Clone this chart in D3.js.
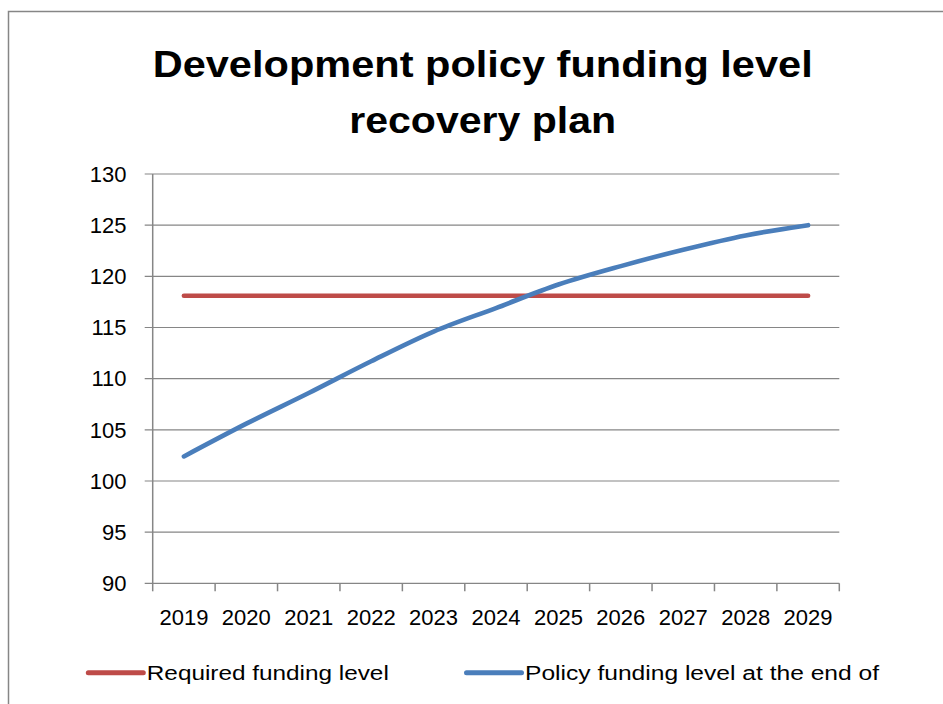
<!DOCTYPE html>
<html>
<head>
<meta charset="utf-8">
<script src="https://cdn.jsdelivr.net/npm/d3@7"></script>
<style>
  html, body { margin: 0; padding: 0; background: #fff; }
  svg { display: block; }
</style>
</head>
<body>
<div id="chart"></div>
<script>
// data
const years = ["2019", "2020", "2021", "2022", "2023", "2024", "2025", "2026", "2027", "2028", "2029"];
const required = [118.1, 118.1, 118.1, 118.1, 118.1, 118.1, 118.1, 118.1, 118.1, 118.1, 118.1];
const policy = [102.4, 105.6, 108.6, 111.7, 114.6, 116.9, 119.2, 121.0, 122.6, 124.0, 125.0];
const yTicks = [90, 95, 100, 105, 110, 115, 120, 125, 130];
const titleLines = ["Development policy funding level", "recovery plan"];
const seriesNames = ["Required funding level", "Policy funding level at the end of"];

const W = 943, H = 704;
const plot = { left: 152.7, right: 839.3, top: 174, bottom: 583.3 };
const grey = "#868686";
const font = "'Liberation Sans', Arial, sans-serif";

const svg = d3.select("#chart").append("svg").attr("width", W).attr("height", H);

// chart frame (only left and top edges visible in the crop)
svg.append("path")
  .attr("d", `M8.5,${H}V11.5H${W}`)
  .attr("fill", "none").attr("stroke", grey).attr("stroke-width", 1.5);

// title
const titleY = [76.5, 133.3];
const titleW = [660, 267];
svg.append("g").selectAll("text").data(titleLines).enter().append("text")
  .attr("x", 482.7).attr("y", (d, i) => titleY[i])
  .attr("text-anchor", "middle")
  .attr("font-family", font).attr("font-weight", "bold").attr("font-size", 37.5)
  .attr("textLength", (d, i) => titleW[i]).attr("lengthAdjust", "spacingAndGlyphs")
  .text((d) => d);

const x = d3.scaleBand().domain(years).range([plot.left, plot.right]).padding(0);
const y = d3.scaleLinear().domain([90, 130]).range([plot.bottom, plot.top]);
const cx = (d) => x(d) + x.bandwidth() / 2;

// gridlines
svg.append("g").selectAll("line").data(yTicks).enter().append("line")
  .attr("x1", plot.left - 8).attr("x2", plot.right)
  .attr("y1", (d) => y(d)).attr("y2", (d) => y(d))
  .attr("stroke", grey).attr("stroke-width", 1.2);

// y axis line
svg.append("line")
  .attr("x1", plot.left).attr("x2", plot.left)
  .attr("y1", plot.top).attr("y2", plot.bottom)
  .attr("stroke", grey).attr("stroke-width", 1.5);

// y labels
svg.append("g").selectAll("text").data(yTicks).enter().append("text")
  .attr("x", 126.5).attr("y", (d) => y(d) + 7.8)
  .attr("text-anchor", "end")
  .attr("font-family", font).attr("font-size", 22)
  .text((d) => d);

// x tick marks between categories
const bounds = years.map((d) => x(d)).concat([x(years[years.length - 1]) + x.bandwidth()]);
svg.append("g").selectAll("line").data(bounds).enter().append("line")
  .attr("x1", (d) => d).attr("x2", (d) => d)
  .attr("y1", plot.bottom).attr("y2", plot.bottom + 8)
  .attr("stroke", grey).attr("stroke-width", 1.5);

// x labels
svg.append("g").selectAll("text").data(years).enter().append("text")
  .attr("x", cx).attr("y", 624.5)
  .attr("text-anchor", "middle")
  .attr("font-family", font).attr("font-size", 22)
  .text((d) => d);

// series lines
const colors = ["#BE4B48", "#4A7EBB"];
const series = [required, policy];
const line = d3.line()
  .x((d, i) => cx(years[i]))
  .y((d) => y(d))
  .curve(d3.curveCardinal.tension(0));

svg.append("g").selectAll("path").data(series).enter().append("path")
  .attr("d", line)
  .attr("fill", "none")
  .attr("stroke", (d, i) => colors[i])
  .attr("stroke-width", 4.6)
  .attr("stroke-linecap", "round")
  .attr("stroke-linejoin", "round");

// legend
const legX = [88.3, 466.5];
const legTextW = [242, 354];
const leg = svg.append("g").selectAll("g").data(seriesNames).enter().append("g")
  .attr("transform", (d, i) => `translate(${legX[i]},672.7)`);
leg.append("line")
  .attr("x1", 0).attr("x2", 55)
  .attr("stroke", (d, i) => colors[i])
  .attr("stroke-width", 5).attr("stroke-linecap", "round");
leg.append("text")
  .attr("x", 58.5).attr("y", 6.8)
  .attr("font-family", font).attr("font-size", 20)
  .attr("textLength", (d, i) => legTextW[i]).attr("lengthAdjust", "spacingAndGlyphs")
  .text((d) => d);
</script>
</body>
</html>
